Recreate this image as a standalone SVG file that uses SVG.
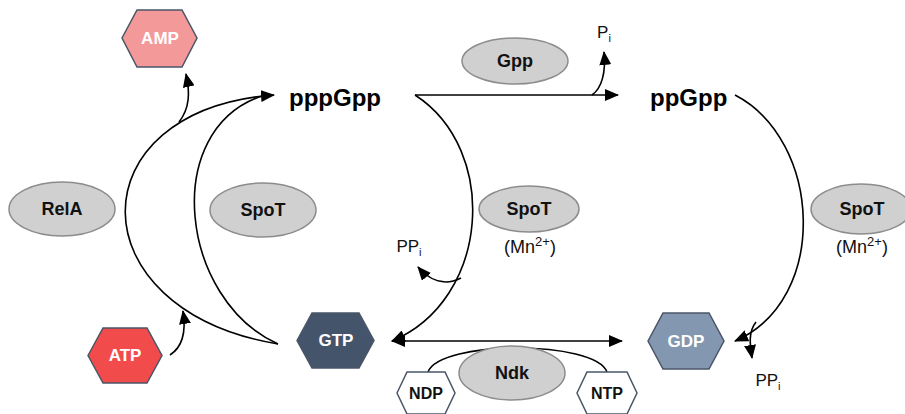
<svg xmlns="http://www.w3.org/2000/svg" width="905" height="414" viewBox="0 0 905 414">
<defs>
<marker id="ah" markerUnits="userSpaceOnUse" markerWidth="14" markerHeight="12" refX="13" refY="6" orient="auto">
<path d="M0,0 L14,6 L0,12 Z" fill="#000"/>
</marker>
<marker id="ahs" markerUnits="userSpaceOnUse" markerWidth="14" markerHeight="12" refX="13" refY="6" orient="auto-start-reverse">
<path d="M0,0 L14,6 L0,12 Z" fill="#000"/>
</marker>
</defs>
<style>
.enz{fill:#d0d0d0;stroke:#8c8c8c;stroke-width:1.5}
.hex{stroke:#4a5568;stroke-width:1.5}
.lbl{font-family:"Liberation Sans",Arial,sans-serif;font-weight:bold;font-size:18px;fill:#111;text-anchor:middle}
.hl{font-family:"Liberation Sans",Arial,sans-serif;font-weight:bold;font-size:17px;fill:#fff;text-anchor:middle}
.hd{font-family:"Liberation Sans",Arial,sans-serif;font-weight:bold;font-size:16px;fill:#111;text-anchor:middle}
.big{font-family:"Liberation Sans",Arial,sans-serif;font-weight:bold;font-size:24px;fill:#000}
.sm{font-family:"Liberation Sans",Arial,sans-serif;font-size:17px;fill:#111;text-anchor:middle}
.mn{font-family:"Liberation Sans",Arial,sans-serif;font-size:18px;fill:#111;text-anchor:middle}
.sub{font-size:11px;fill:#111}
.sup{font-size:13px;fill:#111}
.c{fill:none;stroke:#000;stroke-width:1.6}
</style>
<rect width="905" height="414" fill="#fff"/>
<g id="connectors">
<path class="c" d="M278,344 C75,310 75,110 274,95" marker-end="url(#ah)"/>
<path class="c" d="M278,344 C180,300 160,130 262,96"/>
<path class="c" d="M179,122 C190,108 190,92 186,74" marker-end="url(#ah)"/>
<path class="c" d="M170,355 C184,346 186,330 183,311" marker-end="url(#ah)"/>
<path class="c" d="M415,95 L618,95" marker-end="url(#ah)"/>
<path class="c" d="M592,95 C602,88 606,72 604,52" marker-end="url(#ah)"/>
<path class="c" d="M415,95 C500,150 490,300 392,341" marker-end="url(#ah)"/>
<path class="c" d="M461,278 C445,286 430,281 418,267" marker-end="url(#ah)"/>
<path class="c" d="M392,341 L622,341" marker-start="url(#ahs)" marker-end="url(#ah)"/>
<path class="c" d="M428,372 C440,340 595,340 607,372"/>
<path class="c" d="M735,95 C822,140 830,300 735,341" marker-end="url(#ah)"/>
<path class="c" d="M756,322 C748,332 750,345 752,358" marker-end="url(#ah)"/>
</g>
<g id="AMP"><polygon class="hex" fill="#f4999a" points="122,38 137,10 182,10 197,38 182,67 137,67"/><text class="hl" x="160" y="44">AMP</text></g>
<g id="ATP"><polygon class="hex" fill="#f24b4b" points="88,355.5 103,328 147,328 162,355.5 147,383 103,383"/><text class="hl" x="125" y="361">ATP</text></g>
<g id="GTP"><polygon class="hex" fill="#44546a" points="297,340.5 312,313 359,313 374,340.5 359,368 312,368"/><text class="hl" x="336" y="346">GTP</text></g>
<g id="GDP"><polygon class="hex" fill="#8497b0" points="648,341 663,313 709,313 724,341 709,369 663,369"/><text class="hl" x="686" y="347">GDP</text></g>
<g id="NDP"><polygon class="hex" fill="#fff" points="397,393 407,372 445,372 455,393 445,414 407,414"/><text class="hd" x="426" y="399">NDP</text></g>
<g id="NTP"><polygon class="hex" fill="#fff" points="577,393 587,372 627,372 637,393 627,414 587,414"/><text class="hd" x="607" y="399">NTP</text></g>
<g id="RelA"><ellipse class="enz" cx="62" cy="209" rx="53" ry="27"/><text class="lbl" x="62" y="215">RelA</text></g>
<g id="SpoT1"><ellipse class="enz" cx="263" cy="210" rx="53" ry="27"/><text class="lbl" x="263" y="216">SpoT</text></g>
<g id="Gpp"><ellipse class="enz" cx="515" cy="61" rx="53" ry="23"/><text class="lbl" x="515" y="67">Gpp</text></g>
<g id="SpoT2"><ellipse class="enz" cx="529" cy="209" rx="50" ry="23"/><text class="lbl" x="529" y="215">SpoT</text><text class="mn" x="530" y="253">(Mn<tspan class="sup" dy="-7">2+</tspan><tspan dy="7">)</tspan></text></g>
<g id="SpoT3"><ellipse class="enz" cx="861" cy="209" rx="50" ry="25"/><text class="lbl" x="862" y="215">SpoT</text><text class="mn" x="862" y="253">(Mn<tspan class="sup" dy="-7">2+</tspan><tspan dy="7">)</tspan></text></g>
<g id="Ndk"><ellipse class="enz" cx="512" cy="373" rx="53" ry="27"/><text class="lbl" x="512" y="379">Ndk</text></g>
<g id="pppGpp"><text class="big" x="289" y="106">pppGpp</text></g>
<g id="ppGpp"><text class="big" x="650" y="106">ppGpp</text></g>
<g id="labels">
<text class="sm" x="604" y="38">P<tspan class="sub" dy="4">i</tspan></text>
<text class="sm" x="409" y="252">PP<tspan class="sub" dy="4">i</tspan></text>
<text class="sm" x="768" y="386">PP<tspan class="sub" dy="4">i</tspan></text>
</g>
</svg>
